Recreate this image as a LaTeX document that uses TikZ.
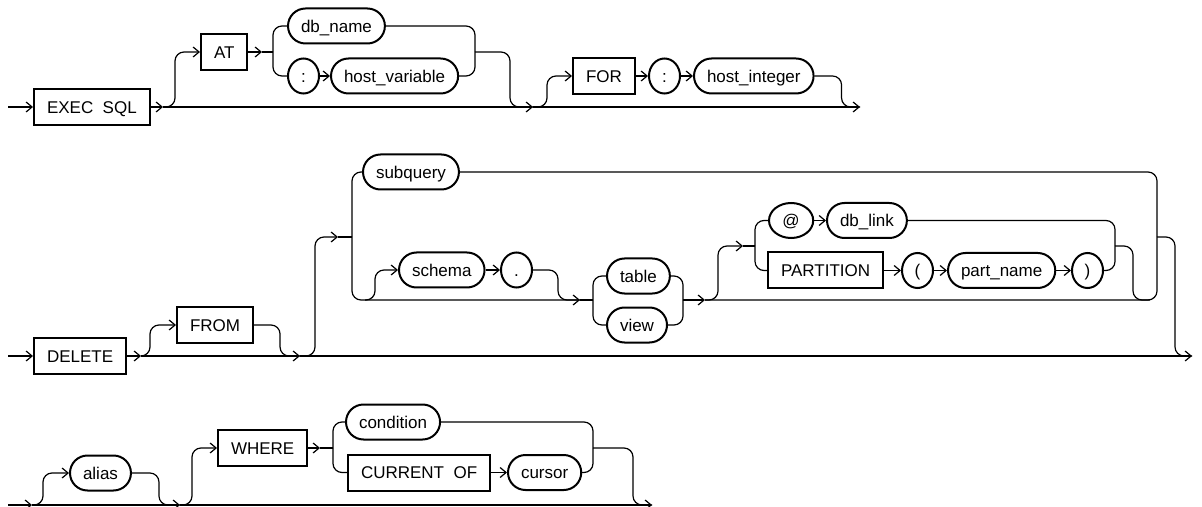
\documentclass[tikz,border=0pt]{standalone}
\usepackage{fontspec}
\setmainfont{Liberation Sans}
\usetikzlibrary{arrows.meta,shapes.geometric}
\definecolor{railInk}{RGB}{0,0,0}
\tikzset{
  rail/.style={railInk,line width=0.6pt,rounded corners=4.5pt},
  kw/.style={draw=railInk,line width=1pt,anchor=west,minimum height=18pt,inner xsep=6.5pt,text height=6.1pt,text depth=0pt},
  oval/.style={draw=railInk,line width=1pt,anchor=west,rounded corners=8.75pt,minimum height=17.5pt,inner xsep=6.5pt,text height=6.1pt,text depth=0pt},
  sym/.style={draw=railInk,ellipse,line width=1pt,anchor=west,minimum width=15.5pt,minimum height=17.5pt,inner xsep=3.5pt,inner ysep=0pt,text height=6.1pt,text depth=0pt}
}

\begin{document}
\begin{tikzpicture}[x=0.5pt,y=0.5pt,font=\fontsize{8.5}{10}\selectfont,>={Straight Barb[length=3pt,width=5pt]}]
  \useasboundingbox (0,0) rectangle (1202,-507);
  \begin{scope}[shift={(0,-107)}]
    \coordinate (s1) at (8,0);
    \coordinate (a1) at (163,0);
    \coordinate (a2) at (533,0);
    \coordinate (e1) at (860,0);
    \coordinate (atout) at (262,55);
    \coordinate (forkA) at (273,55);
    \coordinate (joinA) at (475,55);
    \node[kw] (execsql) at (33,0) {EXEC\ \ SQL};
    \node[kw] (atkw) at (200,55) {AT};
    \node[oval] (dbname) at (287,81) {db\_name};
    \node[sym] (colA) at (287,31) {:};
    \node[oval] (hostvar) at (330,31) {host\_variable};
    \node[kw] (forkw) at (572,31) {FOR};
    \node[sym] (colB) at (648,31) {:};
    \node[oval] (hostint) at (693,31) {host\_integer};
    \draw[rail,->] (s1) -- (execsql.west);
    \draw[rail,->] (execsql.east) -- (a1);
    \draw[rail,->] (a1) -- (a2);
    \draw[rail,->] (a2) -- (e1);
    \draw[rail,->] (a1) -- ++(12,0) |- (atkw.west);
    \draw[rail,->] (atkw.east) -- (atout);
    \draw[rail] (atout) -- (forkA);
    \draw[rail] (forkA) |- (dbname.west);
    \draw[rail] (forkA) |- (colA.west);
    \draw[rail,->] (colA.east) -- (hostvar.west);
    \draw[rail] (dbname.east) -| (joinA);
    \draw[rail] (hostvar.east) -| (joinA);
    \draw[rail] (joinA) -- ++(35,0) |- (a2);
    \draw[rail,->] (a2) -- ++(14,0) |- (forkw.west);
    \draw[rail,->] (forkw.east) -- (colB.west);
    \draw[rail,->] (colB.east) -- (hostint.west);
    \draw[rail] (hostint.east) -- ++(27,0) |- (e1);
  \end{scope}
  \begin{scope}[shift={(0,-356)}]
    \coordinate (s2) at (8,0);
    \coordinate (b1) at (141,0);
    \coordinate (b2) at (300,0);
    \coordinate (e2) at (1192,0);
    \coordinate (gin) at (338,119);
    \coordinate (forkB) at (352,119);
    \coordinate (joinB) at (1157,119);
    \coordinate (sch) at (365,56);
    \coordinate (tv) at (580,56);
    \coordinate (forkC) at (593,56);
    \coordinate (joinC) at (683,56);
    \coordinate (c2) at (705,56);
    \coordinate (pin) at (743,110);
    \coordinate (forkD) at (755,110);
    \coordinate (joinD) at (1115,110);
    \coordinate (pmerge) at (1150,56);
    \node[kw] (delete) at (33,0) {DELETE};
    \node[kw] (from) at (176,31) {FROM};
    \node[oval] (subquery) at (362,184) {subquery};
    \node[oval] (schema) at (398,86) {schema};
    \node[sym] (dot) at (500,86) {.};
    \node[oval] (table) at (606,80) {table};
    \node[oval] (view) at (606,31) {view};
    \node[sym] (atsign) at (768,135.5) {@};
    \node[oval] (dblink) at (826,135.5) {db\_link};
    \node[kw] (partition) at (767,85.5) {PARTITION};
    \node[sym] (lpar) at (901,85.5) {(};
    \node[oval] (partname) at (947,85.5) {part\_name};
    \node[sym] (rpar) at (1071,85.5) {)};
    \draw[rail,->] (s2) -- (delete.west);
    \draw[rail,->] (delete.east) -- (b1);
    \draw[rail,->] (b1) -- (b2);
    \draw[rail,->] (b2) -- (e2);
    \draw[rail,->] (b1) -- ++(9,0) |- (from.west);
    \draw[rail] (from.east) -- ++(26,0) |- (b2);
    \draw[rail,->] (b2) -- ++(15,0) |- (gin);
    \draw[rail] (gin) -- (forkB);
    \draw[rail] (forkB) |- (subquery.west);
    \draw[rail,->] (forkB) |- (tv);
    \draw[rail,->] (sch) -- ++(10,0) |- (schema.west);
    \draw[rail,->] (schema.east) -- (dot.west);
    \draw[rail] (dot.east) -- ++(25,0) |- (tv);
    \draw[rail] (tv) -- (forkC);
    \draw[rail] (forkC) |- (table.west);
    \draw[rail] (forkC) |- (view.west);
    \draw[rail] (table.east) -| (joinC);
    \draw[rail] (view.east) -| (joinC);
    \draw[rail,->] (joinC) -- (c2);
    \draw[rail,->] (c2) -- ++(13,0) |- (pin);
    \draw[rail] (pin) -- (forkD);
    \draw[rail] (forkD) |- (atsign.west);
    \draw[rail] (forkD) |- (partition.west);
    \draw[rail,->] (atsign.east) -- (dblink.west);
    \draw[rail,->] (partition.east) -- (lpar.west);
    \draw[rail,->] (lpar.east) -- (partname.west);
    \draw[rail,->] (partname.east) -- (rpar.west);
    \draw[rail] (dblink.east) -| (joinD);
    \draw[rail] (rpar.east) -| (joinD);
    \draw[rail] (joinD) -- ++(18,0) |- (pmerge);
    \draw[rail] (c2) -| (joinB);
    \draw[rail] (subquery.east) -| (joinB);
    \draw[rail] (joinB) -- ++(18,0) |- (e2);
  \end{scope}
  \begin{scope}[shift={(0,-505)}]
    \coordinate (s3) at (8,0);
    \coordinate (d1) at (32,0);
    \coordinate (d2) at (180,0);
    \coordinate (e3) at (652,0);
    \coordinate (wout) at (320,57);
    \coordinate (forkE) at (333,57);
    \coordinate (joinE) at (593,57);
    \node[oval] (alias) at (69,32) {alias};
    \node[kw] (where) at (217,57) {WHERE};
    \node[oval] (condition) at (345,83) {condition};
    \node[kw] (curof) at (347,32.5) {CURRENT\ \ OF};
    \node[oval] (cursor) at (507,32.5) {cursor};
    \draw[rail,->] (s3) -- (d1);
    \draw[rail,->] (d1) -- (d2);
    \draw[rail,->] (d2) -- (e3);
    \draw[rail,->] (d1) -- ++(11,0) |- (alias.west);
    \draw[rail] (alias.east) -- ++(27,0) |- (d2);
    \draw[rail,->] (d2) -- ++(12,0) |- (where.west);
    \draw[rail,->] (where.east) -- (wout);
    \draw[rail] (wout) -- (forkE);
    \draw[rail] (forkE) |- (condition.west);
    \draw[rail] (forkE) |- (curof.west);
    \draw[rail,->] (curof.east) -- (cursor.west);
    \draw[rail] (condition.east) -| (joinE);
    \draw[rail] (cursor.east) -| (joinE);
    \draw[rail] (joinE) -- ++(40,0) |- (e3);
  \end{scope}
\end{tikzpicture}
\end{document}
